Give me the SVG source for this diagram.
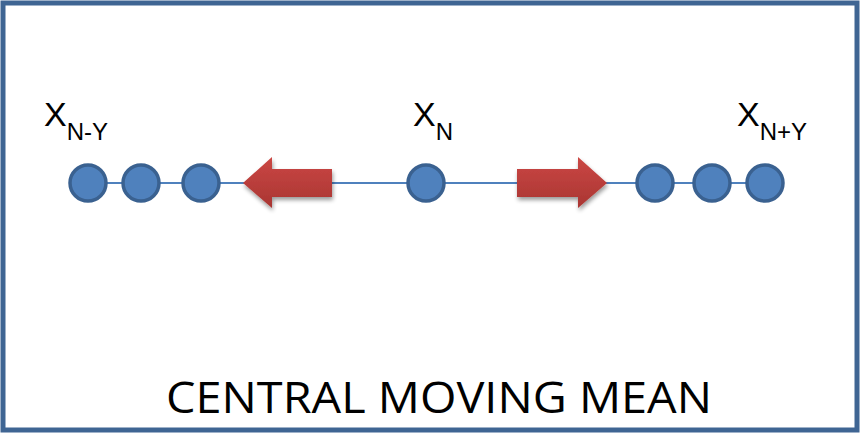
<svg xmlns="http://www.w3.org/2000/svg" width="863" height="433" viewBox="0 0 863 433">
<defs>
<style>
.node{fill:#4F81BD;stroke:#3A6190;stroke-width:3.5}
.lbl{font-family:"Liberation Sans",Arial,sans-serif;fill:#000}
.big{font-size:34px}
.sub{font-size:24px}
.title{font-family:"Open Sans","Liberation Sans",sans-serif;font-size:44px;fill:#000}
.arrow{fill:url(#rg)}
</style>
<linearGradient id="rg" x1="0" y1="0" x2="0" y2="1">
<stop offset="0" stop-color="#CB4744"/>
<stop offset="1" stop-color="#A93532"/>
</linearGradient>
<filter id="sh" x="-20%" y="-20%" width="140%" height="160%">
<feGaussianBlur in="SourceAlpha" stdDeviation="2"/>
<feOffset dx="1" dy="3" result="b"/>
<feComponentTransfer><feFuncA type="linear" slope="0.4"/></feComponentTransfer>
<feMerge><feMergeNode/><feMergeNode in="SourceGraphic"/></feMerge>
</filter>
</defs>
<rect x="0" y="0" width="863" height="433" fill="#fff"/>
<rect x="3" y="3" width="854" height="427" fill="#fff" stroke="#3F6593" stroke-width="5"/>
<g id="connectors">
<line x1="88" y1="183" x2="765" y2="183" stroke="#4F81BD" stroke-width="2"/>
<polygon class="arrow" filter="url(#sh)" points="243,183 272,157 272,169 332,169 332,197 272,197 272,208"/>
<polygon class="arrow" filter="url(#sh)" points="607,183 578,157 578,169 517,169 517,197 578,197 578,208"/>
</g>
<g id="n1"><circle class="node" cx="88" cy="183" r="18"/></g>
<g id="n2"><circle class="node" cx="141" cy="183" r="18"/></g>
<g id="n3"><circle class="node" cx="201" cy="183" r="18"/></g>
<g id="n4"><circle class="node" cx="426" cy="183" r="18"/></g>
<g id="n5"><circle class="node" cx="655" cy="183" r="18"/></g>
<g id="n6"><circle class="node" cx="712" cy="183" r="18"/></g>
<g id="n7"><circle class="node" cx="765" cy="183" r="18"/></g>
<g id="label-left"><text class="lbl" x="44" y="126"><tspan class="big">X</tspan><tspan class="sub" dy="14">N-Y</tspan></text></g>
<g id="label-mid"><text class="lbl" x="413" y="126"><tspan class="big">X</tspan><tspan class="sub" dy="14">N</tspan></text></g>
<g id="label-right"><text class="lbl" x="737" y="126"><tspan class="big">X</tspan><tspan class="sub" dy="14">N+Y</tspan></text></g>
<g id="title"><text class="title" x="166" y="413" textLength="546" lengthAdjust="spacingAndGlyphs">CENTRAL MOVING MEAN</text></g>
</svg>
